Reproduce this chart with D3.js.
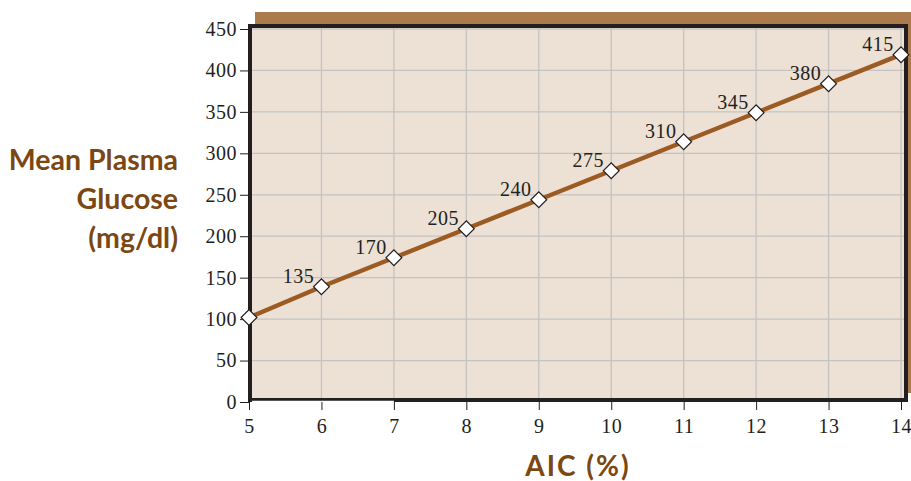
<!DOCTYPE html>
<html>
<head>
<meta charset="utf-8">
<script src="https://cdn.jsdelivr.net/npm/d3@7"></script>
<style>
  body { margin: 0; background: #fff; }
  text { font-family: "Liberation Serif", serif; }
</style>
</head>
<body>
<svg width="911" height="481"></svg>
<script>
var a1c = [5, 6, 7, 8, 9, 10, 11, 12, 13, 14];
// marker heights as drawn in the picture (sit a little above the printed values)
var glucose = [102, 139, 174, 209, 244, 279, 314, 349, 384, 419];
var point_labels = ["", "135", "170", "205", "240", "275", "310", "345", "380", "415"];
var y_ticks = [0, 50, 100, 150, 200, 250, 300, 350, 400, 450];

var svg = d3.select("svg");

const xscale = d3.scaleLinear().domain([5, 14]).range([249, 901]);
const yscale = d3.scaleLinear().domain([0, 450]).range([402, 29]);

// brown drop shadow behind the plot frame
svg.append("rect")
    .attr("x", xscale(5) + 6).attr("y", yscale(450) - 17)
    .attr("width", 911 - xscale(5) - 6).attr("height", yscale(0) - yscale(450) + 8)
    .attr("fill", "#ad7b4b");

// plot background
svg.append("rect")
    .attr("x", xscale(5)).attr("y", yscale(450) - 3)
    .attr("width", xscale(14) + 4 - xscale(5)).attr("height", yscale(0) - yscale(450) + 1)
    .attr("fill", "#ede0d4");

// grid
svg.append("g").selectAll("line").data(a1c.slice(1)).join("line")
    .attr("x1", d => xscale(d)).attr("x2", d => xscale(d))
    .attr("y1", yscale(450) - 3).attr("y2", yscale(0))
    .attr("stroke", "#c3c3c3").attr("stroke-width", 1.3);
svg.append("g").selectAll("line").data(y_ticks.slice(1)).join("line")
    .attr("x1", xscale(5)).attr("x2", xscale(14) + 3)
    .attr("y1", d => yscale(d)).attr("y2", d => yscale(d))
    .attr("stroke", "#c3c3c3").attr("stroke-width", 1.3);

// frame
svg.append("rect")
    .attr("x", xscale(5) + 1).attr("y", yscale(450) - 3)
    .attr("width", xscale(14) + 4 - xscale(5)).attr("height", yscale(0) - yscale(450) + 1)
    .attr("fill", "none").attr("stroke", "#231f20").attr("stroke-width", 4);
svg.append("line")
    .attr("x1", xscale(5) + 3).attr("x2", xscale(7))
    .attr("y1", yscale(0) - 0.5).attr("y2", yscale(0) - 0.5)
    .attr("stroke", "#fff").attr("stroke-width", 1.5);

// axes
const xAxis = d3.axisBottom(xscale).tickValues(a1c).tickSize(8).tickPadding(9);
const gx = svg.append("g").attr("transform", `translate(0, ${yscale(0)})`).call(xAxis);
gx.select(".domain").remove();
gx.selectAll("line").attr("stroke", "#231f20");
gx.selectAll("text").attr("font-size", 20).attr("fill", "#231f20")
    .attr("letter-spacing", 0.5)
    .style("font-family", "Liberation Serif");

const yAxis = d3.axisLeft(yscale).tickValues(y_ticks).tickSize(9).tickPadding(3);
const gy = svg.append("g").attr("transform", `translate(${xscale(5)}, 0)`).call(yAxis);
gy.select(".domain").remove();
gy.selectAll("line").attr("stroke", "#231f20");
gy.selectAll("text").attr("font-size", 20).attr("fill", "#231f20")
    .attr("letter-spacing", 0.5)
    .style("font-family", "Liberation Serif");

// line
var line = d3.line().x((d, i) => xscale(a1c[i])).y(d => yscale(d));
svg.append("path").datum(glucose)
    .attr("d", line).attr("fill", "none")
    .attr("stroke", "#9b5b22").attr("stroke-width", 4.5);

// diamonds
svg.append("g").selectAll("path").data(glucose).join("path")
    .attr("d", d3.symbol().type(d3.symbolSquare).size(125))
    .attr("transform", (d, i) => `translate(${xscale(a1c[i])}, ${yscale(d)}) rotate(45)`)
    .attr("fill", "#fff").attr("stroke", "#231f20").attr("stroke-width", 1.2);

// value labels
svg.append("g").selectAll("text").data(glucose).join("text")
    .attr("x", (d, i) => xscale(a1c[i]) - 23)
    .attr("y", d => yscale(d) - 4)
    .attr("text-anchor", "middle")
    .attr("font-size", 20).attr("fill", "#231f20")
    .attr("letter-spacing", 0.5)
    .text((d, i) => point_labels[i]);

// titles
var ytitle = svg.append("text")
    .attr("text-anchor", "end")
    .attr("fill", "#7b4713").attr("font-size", 28.5).attr("font-weight", "bold")
    .style("font-family", "Lato");
["Mean Plasma", "Glucose", "(mg/dl)"].forEach(function (t, i) {
    ytitle.append("tspan").attr("x", 178).attr("y", 170 + i * 39).text(t);
});

svg.append("text")
    .attr("x", 578).attr("y", 476)
    .attr("text-anchor", "middle")
    .attr("fill", "#7b4713").attr("font-size", 28).attr("font-weight", "bold")
    .attr("letter-spacing", 2)
    .style("font-family", "Lato")
    .text("AIC (%)");
</script>
</body>
</html>
